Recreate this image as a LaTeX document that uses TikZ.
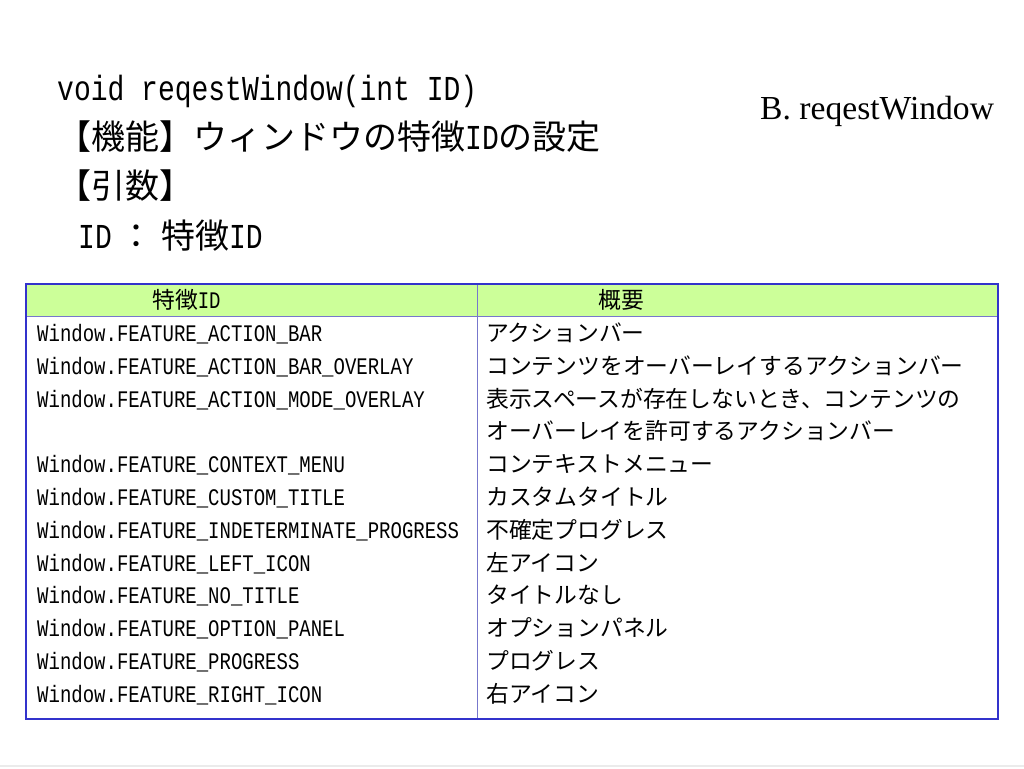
\documentclass[tikz,border=0pt]{standalone}
\usepackage{fontspec}
\setmainfont{Liberation Serif}
\newfontfamily\jp{Noto Sans CJK JP}
\newfontfamily\gmono[FakeStretch=0.8]{Liberation Mono}
\newcommand\lat[1]{{\gmono #1}}
\definecolor{tblue}{HTML}{3333CC}
\definecolor{tline}{HTML}{7777CC}
\definecolor{hdrgreen}{HTML}{CCFF99}

\begin{document}
\begin{tikzpicture}[x=1pt,y=-1pt,
  big/.style={anchor=base west,inner sep=0pt,font=\fontsize{34}{36}\selectfont\jp},
  idcell/.style={anchor=base west,inner sep=0pt,font=\fontsize{23.75}{26}\selectfont\gmono},
  desc/.style={anchor=base west,inner sep=0pt,font=\fontsize{22.8}{26}\selectfont\jp}]
\useasboundingbox (0,0) rectangle (1024,768);
%\draw[step=32.8,help lines] (0,0) grid (1024,768);
\node[big] (sig) at (57,100) {\lat{\fontsize{35}{36}\selectfont void reqestWindow(int ID)}};
\node[big] (func) at (57,149) {【機能】ウィンドウの特徴\lat{\fontsize{35}{36}\selectfont ID}の設定};
\node[big] (args) at (57,198) {【引数】};
\node[big] (arg1) at (78,248) {\lat{\fontsize{35}{36}\selectfont ID} ： 特徴\lat{\fontsize{35}{36}\selectfont ID}};
\node[anchor=base west,inner sep=0pt,font=\fontsize{33.6}{36}\selectfont] (ttl) at (760,119) {B. reqestWindow};
% table
\fill[hdrgreen] (26,284) rectangle (998,316);
\draw[tline] (26,316) -- (998,316) (477,284) -- (477,719);
\draw[tblue,line width=2.8pt] (26,284) rectangle (998,719);
\node[desc] (h1) at (152,308.5) {特徴\lat{\fontsize{23.75}{26}\selectfont ID}};
\node[desc] (h2) at (598,308.5) {概要};
\foreach \id/\txt [count=\i] in {
  Window.FEATURE\_ACTION\_BAR/アクションバー,
  Window.FEATURE\_ACTION\_BAR\_OVERLAY/コンテンツをオーバーレイするアクションバー,
  Window.FEATURE\_ACTION\_MODE\_OVERLAY/表示スペースが存在しないとき、コンテンツの,
  {}/オーバーレイを許可するアクションバー,
  Window.FEATURE\_CONTEXT\_MENU/コンテキストメニュー,
  Window.FEATURE\_CUSTOM\_TITLE/カスタムタイトル,
  Window.FEATURE\_INDETERMINATE\_PROGRESS/不確定プログレス,
  Window.FEATURE\_LEFT\_ICON/左アイコン,
  Window.FEATURE\_NO\_TITLE/タイトルなし,
  Window.FEATURE\_OPTION\_PANEL/オプションパネル,
  Window.FEATURE\_PROGRESS/プログレス,
  Window.FEATURE\_RIGHT\_ICON/右アイコン}
{
  \node[idcell] (id\i) at (37,{341.5+32.8*(\i-1)}) {\id};
  \node[desc] (d\i) at (486,{341.5+32.8*(\i-1)}) {\txt};
}
\draw[black!8,line width=1.5pt] (0,766) -- (1024,766);
\end{tikzpicture}
\end{document}
